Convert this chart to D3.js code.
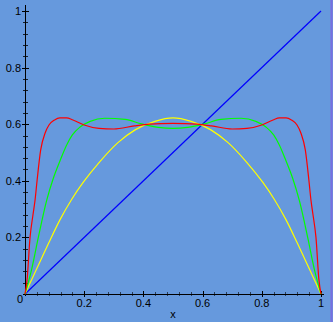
<!DOCTYPE html>
<html>
<head>
<meta charset="utf-8">
<script src="https://cdn.jsdelivr.net/npm/d3@7"></script>
<style>
  body { margin: 0; background: #6699dd; }
  svg { display: block; }
  text { font-family: "Liberation Sans", Arial, sans-serif; font-size: 11px; fill: #000; }
</style>
</head>
<body>
<div id="chart"></div>
<script>
// values
const xTicks = [0.2, 0.4, 0.6, 0.8, 1];
const yTicks = [0.2, 0.4, 0.6, 0.8, 1];
const xTickLabels = ['0.2', '0.4', '0.6', '0.8', '1'];
const yTickLabels = ['0.2', '0.4', '0.6', '0.8', '1'];

const blueX = [0, 1];
const blueY = [0, 1];

const redX = [0, 0.007, 0.017, 0.027, 0.034, 0.041, 0.053, 0.068, 0.081, 0.1, 0.118, 0.14, 0.162, 0.2, 0.25, 0.3, 0.37, 0.42, 0.5,
  0.58, 0.63, 0.7, 0.75, 0.8, 0.838, 0.86, 0.882, 0.9, 0.919, 0.932, 0.947, 0.959, 0.966, 0.973, 0.983, 0.993, 1];
const redY = [0, 0.05, 0.2, 0.28, 0.332, 0.403, 0.509, 0.569, 0.597, 0.615, 0.622, 0.622, 0.615, 0.597, 0.585, 0.583, 0.594, 0.6, 0.603,
  0.6, 0.594, 0.583, 0.585, 0.597, 0.615, 0.622, 0.622, 0.615, 0.597, 0.569, 0.509, 0.403, 0.332, 0.28, 0.2, 0.05, 0];

const greenX = [0, 0.023, 0.045, 0.073, 0.096, 0.118, 0.14, 0.16, 0.186, 0.22, 0.27, 0.338, 0.394, 0.45, 0.5,
  0.55, 0.606, 0.662, 0.73, 0.78, 0.814, 0.84, 0.86, 0.882, 0.904, 0.927, 0.955, 0.977, 1];
const greenY = [0, 0.09, 0.2, 0.33, 0.41, 0.47, 0.525, 0.562, 0.59, 0.61, 0.621, 0.617, 0.601, 0.589, 0.585,
  0.589, 0.601, 0.617, 0.621, 0.61, 0.59, 0.562, 0.525, 0.47, 0.41, 0.33, 0.2, 0.09, 0];

const yellowX = [0, 0.04, 0.08, 0.118, 0.158, 0.197, 0.253, 0.314, 0.372, 0.439, 0.5,
  0.561, 0.628, 0.686, 0.747, 0.803, 0.842, 0.882, 0.92, 0.96, 1];
const yellowY = [0, 0.09, 0.18, 0.262, 0.335, 0.395, 0.468, 0.535, 0.58, 0.61, 0.622,
  0.61, 0.58, 0.535, 0.468, 0.395, 0.335, 0.262, 0.18, 0.09, 0];

const width = 333, height = 322;

const x = d3.scaleLinear().domain([0, 1]).range([25, 321]);
const y = d3.scaleLinear().domain([0, 1]).range([294, 11]);

const svg = d3.select('#chart').append('svg')
  .attr('width', width)
  .attr('height', height);

svg.append('rect')
  .attr('width', width)
  .attr('height', height)
  .attr('fill', '#6699dd');

// right window edge
svg.append('line')
  .attr('x1', 331.5).attr('x2', 331.5)
  .attr('y1', 0).attr('y2', height)
  .attr('stroke', '#7a6ee0')
  .attr('stroke-width', 2);

const minor = d3.range(0.04, 1.0001, 0.04);

// axes
const axis = svg.append('g').attr('stroke', '#000').attr('stroke-width', 1).attr('shape-rendering', 'crispEdges');
axis.append('line')
  .attr('x1', x(0) - 2).attr('x2', x(1) + 3)
  .attr('y1', y(0) + 0.5).attr('y2', y(0) + 0.5);
axis.append('line')
  .attr('x1', x(0) + 0.5).attr('x2', x(0) + 0.5)
  .attr('y1', y(1) - 6).attr('y2', y(0) + 2);

axis.selectAll('.ymin').data(minor).enter().append('line')
  .attr('x1', x(0) - 2).attr('x2', x(0) + 3)
  .attr('y1', d => Math.round(y(d)) + 0.5).attr('y2', d => Math.round(y(d)) + 0.5)
  .attr('stroke-width', d => yTicks.some(t => Math.abs(t - d) < 1e-6) ? 1 : 0.8);
axis.selectAll('.ymaj').data(yTicks).enter().append('line')
  .attr('x1', x(0) - 3).attr('x2', x(0) + 4)
  .attr('y1', d => Math.round(y(d)) + 0.5).attr('y2', d => Math.round(y(d)) + 0.5);

axis.selectAll('.xmin').data(minor).enter().append('line')
  .attr('x1', d => Math.round(x(d)) + 0.5).attr('x2', d => Math.round(x(d)) + 0.5)
  .attr('y1', y(0) - 2).attr('y2', y(0) + 2)
  .attr('stroke-opacity', 0.6);
axis.selectAll('.xmaj').data(xTicks).enter().append('line')
  .attr('x1', d => Math.round(x(d)) + 0.5).attr('x2', d => Math.round(x(d)) + 0.5)
  .attr('y1', y(0) - 3).attr('y2', y(0) + 3);

// tick labels
svg.selectAll('.ylab').data(yTicks).enter().append('text')
  .attr('x', x(0) - 4)
  .attr('y', d => y(d) + 4)
  .attr('text-anchor', 'end')
  .text((d, i) => yTickLabels[i]);

svg.selectAll('.xlab').data(xTicks).enter().append('text')
  .attr('x', d => x(d))
  .attr('y', y(0) + 13)
  .attr('text-anchor', 'middle')
  .text((d, i) => xTickLabels[i]);

svg.append('text')
  .attr('x', x(0) - 2)
  .attr('y', y(0) + 9)
  .attr('text-anchor', 'end')
  .text('0');

svg.append('text')
  .attr('x', x(0.5))
  .attr('y', y(0) + 24)
  .attr('text-anchor', 'middle')
  .text('x');

// curves
const line = d3.line()
  .x(d => x(d[0]))
  .y(d => y(d[1]))
  .curve(d3.curveMonotoneX);

const series = [
  { xs: blueX, ys: blueY, color: '#0000ff' },
  { xs: yellowX, ys: yellowY, color: '#ffff00' },
  { xs: greenX, ys: greenY, color: '#00ff00' },
  { xs: redX, ys: redY, color: '#ff0000' }
];

series.forEach(s => {
  svg.append('path')
    .datum(s.xs.map((v, i) => [v, s.ys[i]]))
    .attr('fill', 'none')
    .attr('stroke', s.color)
    .attr('stroke-width', 1.2)
    .attr('d', line);
});
</script>
</body>
</html>
